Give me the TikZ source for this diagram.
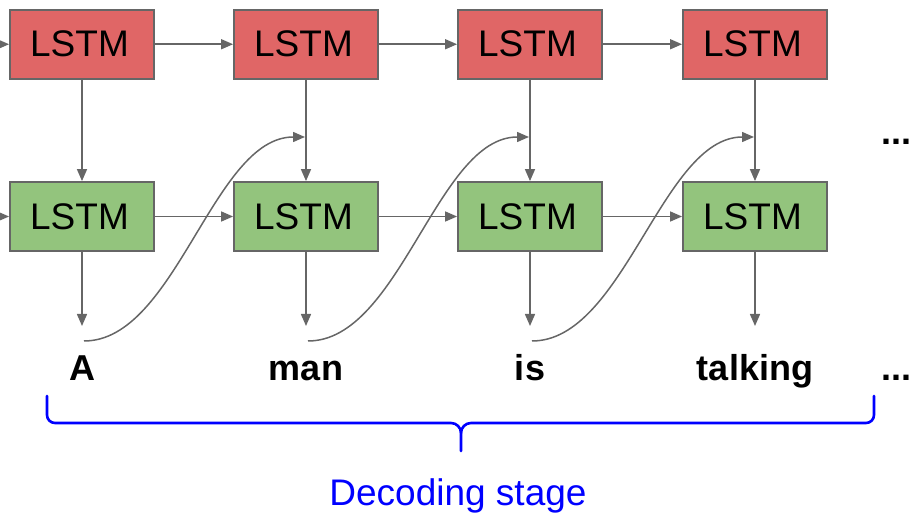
\documentclass[tikz,border=0pt]{standalone}
\usepackage{fontspec}
\setmainfont{Liberation Sans}
\usetikzlibrary{arrows.meta}
\definecolor{redbox}{HTML}{E06666}
\definecolor{greenbox}{HTML}{93C47D}
\definecolor{edgegray}{HTML}{666666}
\begin{document}
\begin{tikzpicture}[x=1pt,y=-1pt,
  lstm/.style={draw=edgegray,line width=1.8pt,minimum width=144pt,minimum height=69pt,inner sep=0pt,font=\fontsize{37}{40}\selectfont},
  conn/.style={draw=edgegray,line width=1.5pt,-{Triangle[length=12pt,width=10pt]}},
  word/.style={font=\fontsize{36}{40}\selectfont\bfseries,anchor=base,inner sep=0pt},
  bracestyle/.style={draw=blue,line width=2.6pt,line cap=round}]
\useasboundingbox (0,0) rectangle (911,513);
% boxes
\foreach \i/\x in {1/82,2/306,3/530,4/755}{
  \node[lstm,fill=redbox] (r\i) at (\x,44.25) {LSTM\kern5pt};
  \node[lstm,fill=greenbox] (g\i) at (\x,216.5) {LSTM\kern5pt};
  \coordinate (o\i) at (\x,326);
  \draw[conn] (r\i) -- (g\i);
  \draw[conn] (g\i) -- (o\i);
}
% words
\node[word] (w1) at (82,381) {A};
\node[word] (w2) at (306,381) {man};
\node[word] (w3) at (530,381) {is};
\node[word] (w4) at (755,381) {talking};
\node[word,anchor=base west] (d1) at (881,145) {...};
\node[word,anchor=base west] (d2) at (881,381) {...};
% input arrows
\coordinate (inr) at (0,44.25);
\coordinate (ing) at (0,216.5);
\draw[conn] (inr) -- (r1);
\draw[conn] (ing) -- (g1);
% recurrent arrows
\foreach \i/\j in {1/2,2/3,3/4}{
  \draw[conn] (r\i) -- (r\j);
  \draw[conn] (g\i) -- (g\j);
}
% feedback curves
\foreach \i/\xs/\xe in {1/84/305,2/308/529,3/532/754}{
  \coordinate (s\i) at (\xs,341);
  \coordinate (e\i) at (\xe,137);
  \draw[conn] (s\i) .. controls (\xs+92,341) and (\xe-92,137) .. (e\i);
}
% brace
\coordinate (bl) at (47,396);
\coordinate (br) at (874,396);
\coordinate (bt) at (461,451);
\draw[bracestyle] (bl) -- (47,415) to[out=-90,in=180] (55,423) -- (451,423) to[out=0,in=90] (461,433) -- (bt);
\draw[bracestyle] (br) -- (874,415) to[out=-90,in=0] (866,423) -- (471,423) to[out=180,in=90] (461,433);
\node[font=\fontsize{37}{40}\selectfont,text=blue,anchor=base,inner sep=0pt] (lab) at (458,505) {Decoding stage};
\end{tikzpicture}
\end{document}
